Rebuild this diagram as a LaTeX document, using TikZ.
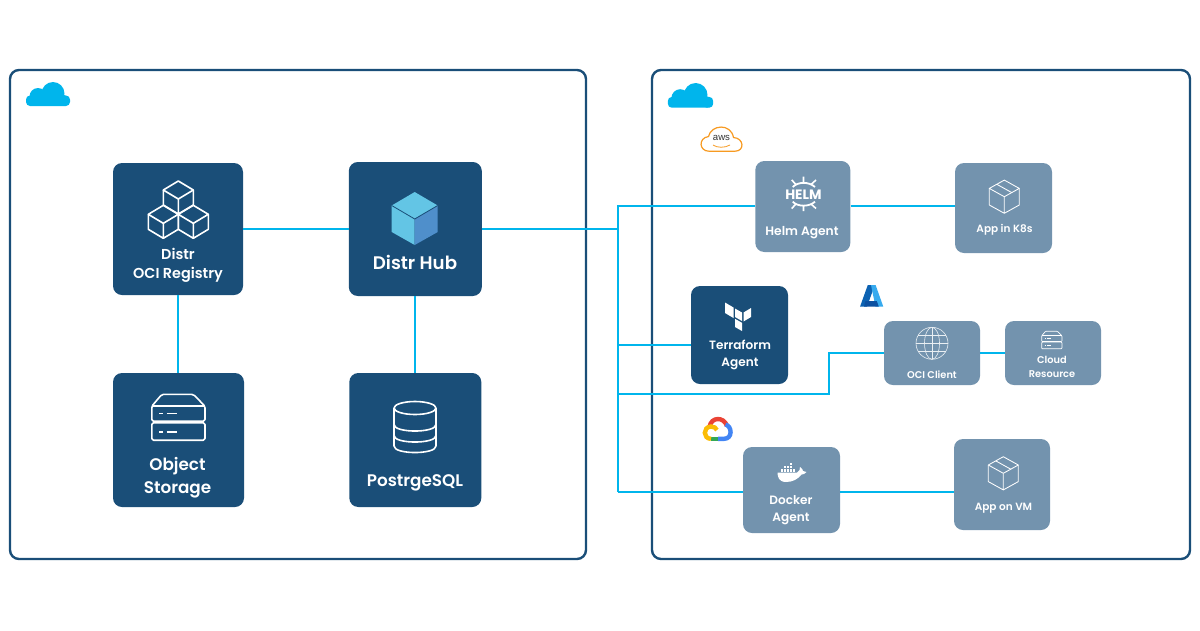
\documentclass[tikz,border=0pt]{standalone}
\usepackage{fontspec}
\setmainfont{Poppins SemiBold}
\newfontfamily\helmfont{Poppins}[BoldFont={Poppins Bold}]
\newfontfamily\awsfont{Liberation Sans}
\usepackage{tikz}
\usetikzlibrary{positioning}
\definecolor{panelblue}{HTML}{1A4E78}
\definecolor{agentgray}{HTML}{7393AE}
\definecolor{linkcyan}{HTML}{00B5EC}
\definecolor{awsorange}{HTML}{F79A21}
\definecolor{cubelight}{HTML}{63C5E5}
\definecolor{cubeshade}{HTML}{4F8FCB}
\definecolor{azuredark}{HTML}{0C62B2}
\definecolor{azurelight}{HTML}{37AAEE}
\definecolor{azurebar}{HTML}{0C50A0}
\definecolor{gred}{HTML}{EA4335}
\definecolor{gblue}{HTML}{4285F4}
\definecolor{ggreen}{HTML}{34A853}
\definecolor{gyellow}{HTML}{FBBC05}
\newcommand{\fs}[2]{\fontsize{#1}{#2}\selectfont}
\tikzset{
	panel/.style = {draw=panelblue,line width=2.4pt,rounded corners=9pt},
	darkbox/.style = {fill=panelblue,rounded corners=9pt,inner sep=0pt},
	grayboxx/.style = {fill=agentgray,rounded corners=9pt,inner sep=0pt},
	link/.style = {draw=linkcyan,line width=2pt},
	boxtext/.style = {text=white,align=center,inner sep=0pt},
	icon/.style = {draw=white,line width=1.6pt,line join=round},
	pics/bluecloud/.style = {code={
		\fill[linkcyan,rounded corners=4pt] (-22,8) rectangle (22,-2.5);
		\fill[linkcyan] (-10,-1.5) circle (8.5);
		\fill[linkcyan] (5,-4.5) circle (11.5);
		\fill[linkcyan] (16,2.5) circle (5.5);
	}},
	pics/isocube/.style = {code={
		\draw[icon] (0,-18) -- (-15,-9) -- (0,0) -- (15,-9) -- cycle;
		\draw[icon] (-15,-9) -- (-15,6) -- (0,15) -- (15,6) -- (15,-9) (0,0) -- (0,15);
	}},
	pics/parcel/.style = {code={
		\draw[icon,line width=.85pt] (0,-16.6) -- (-15,-8.3) -- (0,0) -- (15,-8.3) -- cycle;
		\draw[icon,line width=.85pt] (-15,-8.3) -- (-15,8.3) -- (0,16.6) -- (15,8.3) -- (15,-8.3) (0,0) -- (0,16.6);
		\draw[icon,line width=.85pt] (-7.5,-12.4) -- (7.5,-4.1);
	}},
	pics/rackicon/.style = {code={
		\draw[icon,rounded corners=#1,line width=#1] (-26.6,4) -- (-26.6,-11) -- (-16.6,-22.8) -- (15,-22.8) -- (26.6,-11) -- (26.6,4) -- cycle;
		\draw[icon,line width=#1] (-26.6,-11) -- (26.6,-11);
		\draw[icon,rounded corners=#1,line width=#1] (-26.6,5.6) rectangle (26.6,23);
		\draw[icon,line width=#1] (-19,-3.7) -- (-15,-3.7) (-11.7,-3.7) -- (-1.7,-3.7);
		\draw[icon,line width=#1] (-19,14.7) -- (-15,14.7) (-11.7,14.7) -- (-1.7,14.7);
	}},
}
\begin{document}
\begin{tikzpicture}[x=1pt,y=-1pt]
	\useasboundingbox (0,0) rectangle (1200,630);

	\coordinate (trunktop) at (618,206);
	\coordinate (trunkhub) at (618,229);
	\coordinate (trunkterra) at (618,344.5);
	\coordinate (trunkoci) at (618,393.5);
	\coordinate (trunkdocker) at (618,492);
	\coordinate (ociturn) at (829,353);

	\draw[panel] (10,70) rectangle (586,559);
	\draw[panel] (652,70) rectangle (1190,559);
	\pic at (48,98) {bluecloud};
	\pic[scale=1.03] at (690.5,99.5) {bluecloud};

	\node[darkbox,minimum width=130,minimum height=132] (registry) at (178,229) {};
	\node[darkbox,minimum width=133,minimum height=134] (hub) at (415.3,229) {};
	\node[darkbox,minimum width=131,minimum height=134] (storage) at (178.5,440) {};
	\node[darkbox,minimum width=132,minimum height=134] (postgres) at (415.3,440) {};
	\node[grayboxx,minimum width=95,minimum height=91] (helm) at (802.8,206.5) {};
	\node[grayboxx,minimum width=97,minimum height=90] (appkube) at (1003.5,208) {};
	\node[darkbox,minimum width=97,minimum height=98] (terraform) at (739.5,335) {};
	\node[grayboxx,minimum width=96,minimum height=64] (ociclient) at (932,353) {};
	\node[grayboxx,minimum width=96,minimum height=64] (cloudres) at (1053,353) {};
	\node[grayboxx,minimum width=97,minimum height=86] (docker) at (791.5,490) {};
	\node[grayboxx,minimum width=96,minimum height=91] (appvm) at (1002,484.5) {};

	\draw[link] (registry.east) -- (hub.west);
	\draw[link] (registry.south) -- (registry.south |- storage.north);
	\draw[link] (hub.south) -- (postgres.north);
	\draw[link] (hub.east) -- (trunkhub);
	\draw[link] (helm.west |- trunktop) -- (trunktop) -- (trunkdocker);
	\draw[link] (helm.east |- trunktop) -- (appkube.west |- trunktop);
	\draw[link] (terraform.west |- trunkterra) -- (trunkterra);
	\draw[link] (trunkoci) -| (ociturn) -- (ociclient.west);
	\draw[link] (ociclient.east) -- (cloudres.west);
	\draw[link] (docker.west |- trunkdocker) -- (trunkdocker);
	\draw[link] (docker.east |- trunkdocker) -- (appvm.west |- trunkdocker);

	% box labels
	\node[boxtext,font=\fs{14.4}{19}] (registrytext) at (178,265) {Distr\\OCI Registry};
	\node[boxtext,font=\fs{18.2}{22}] (hubtext) at (415,262) {Distr Hub};
	\node[boxtext,font=\fs{16.8}{23}] (storagetext) at (177.5,477.5) {Object\\Storage};
	\node[boxtext,font=\fs{16.8}{22}] (postgrestext) at (415,482.5) {PostrgeSQL};
	\node[boxtext,font=\fs{12.3}{16}] (helmtext) at (802,232.5) {Helm Agent};
	\node[boxtext,font=\fs{10.5}{14}] (appkubetext) at (1004.5,230) {App in K8s};
	\node[boxtext,font=\fs{12.1}{17}] (terraformtext) at (740,355) {Terraform\\Agent};
	\node[boxtext,font=\fs{9.8}{14}] (ociclienttext) at (932,375) {OCI Client};
	\node[boxtext,font=\fs{9.8}{14}] (cloudrestext) at (1052,367) {Cloud\\Resource};
	\node[boxtext,font=\fs{12.1}{17}] (dockertext) at (791,510.5) {Docker\\Agent};
	\node[boxtext,font=\fs{10.5}{14}] (appvmtext) at (1003.5,508) {App on VM};

	% registry cubes
	\foreach \cx/\cy in {178.3/199,163.3/223.3,193.3/223.3}
		\pic at (\cx,\cy) {isocube};

	% hub cube
	\fill[cubelight] (414.7,192) -- (391.7,205.5) -- (391.7,232) -- (414.7,245) -- (414.7,219) -- (437.7,205.5) -- cycle;
	\fill[cubeshade] (414.7,219) -- (437.7,205.5) -- (437.7,232) -- (414.7,245) -- cycle;
	\draw[panelblue,line width=.8pt] (391.7,205.5) -- (414.7,219) -- (437.7,205.5);

	% storage icons
	\pic at (178.4,417.2) {rackicon=1.6pt};
	\pic[scale=.38] at (1051.8,340) {rackicon=.7pt};

	% postgres barrel
	\draw[icon] (415,408) ellipse [x radius=21,y radius=6.5];
	\draw[icon] (394,408) -- (394,446) .. controls (394,454.7) and (436,454.7) .. (436,446) -- (436,408);
	\draw[icon] (394,424.5) .. controls (394,433.2) and (436,433.2) .. (436,424.5);
	\draw[icon] (394,435.5) .. controls (394,444.2) and (436,444.2) .. (436,435.5);

	% parcels
	\pic at (1004.3,196.7) {parcel};
	\pic at (1003.3,473.3) {parcel};

	% helm wheel
	\node[text=white,inner sep=0pt,font=\helmfont\bfseries\fs{13.6}{14}] (helmword) at (803.4,194.5) {HELM};
	\draw[icon,line width=1.8pt] (792.7,187) .. controls (798,181.5) and (809,181.5) .. (815,187);
	\draw[icon,line width=1.8pt] (792.7,201.7) .. controls (798,207) and (809,207) .. (815,201.7);
	\draw[icon] (803.5,176.7) -- (803.5,183) (791.7,180) -- (796,184.5) (816,180) -- (811,184.5);
	\draw[icon] (803.5,205) -- (803.5,211) (791.7,208.5) -- (796,204) (816,208.5) -- (811,204);

	% terraform mark
	\fill[white] (725,302.5) -- (733.5,307.5) -- (733.5,318) -- (725,313) -- cycle;
	\fill[white] (735,308.5) -- (742,312.5) -- (742,321) -- (735,317) -- cycle;
	\fill[white] (735,318.8) -- (742,322.8) -- (742,331) -- (735,327) -- cycle;
	\fill[white] (743.5,312.5) -- (751,308) -- (751,317) -- (743.5,321.5) -- cycle;

	% globe
	\begin{scope}[draw=white!85!agentgray,line width=.6pt]
		\draw (932,343.3) circle (16);
		\draw (932,343.3) ellipse [x radius=7.5,y radius=16];
		\draw (932,327.3) -- (932,359.3) (916,343.3) -- (948,343.3);
		\draw (918.1,335.3) -- (945.9,335.3) (918.1,351.3) -- (945.9,351.3);
	\end{scope}

	% docker whale
	\fill[white] (777.5,472.5) -- (797,472.5) .. controls (800,472) and (799.5,469) .. (800,467)
		.. controls (802,468) and (803,470) .. (803,471) .. controls (804,471) and (805,471) .. (806.5,472)
		.. controls (805,474) and (803,474.5) .. (801.5,474.5) .. controls (798,479) and (793,482) .. (786,482)
		.. controls (779,482) and (777.5,477) .. cycle;
	\foreach \bx in {780.5,783.6,786.7,789.8,792.9}
		\fill[white] (\bx,468.9) rectangle +(2.5,2.6);
	\foreach \bx in {783.6,786.7,789.8}
		\fill[white] (\bx,465.7) rectangle +(2.5,2.6);
	\fill[white] (789.8,462.5) rectangle +(2.5,2.6);

	% aws
	\draw[awsorange,line width=1.2pt,fill=white] (709,151.2) .. controls (699,151.2) and (698,138) .. (708.5,136.5)
		.. controls (711,124.5) and (731,123) .. (733.5,137.5)
		.. controls (744,138) and (745,151.2) .. (735,151.2) -- cycle;
	\node[inner sep=0pt,text=black!80,font=\awsfont\fs{9.6}{11}] (awsword) at (721.5,138.2) {aws};
	\draw[awsorange,line width=.8pt] (713,145) .. controls (717,148) and (725,148) .. (730,145);

	% azure
	\fill[azuredark] (860,306.7) -- (867.8,285) -- (874.8,285) -- (867,306.7) -- cycle;
	\fill[azurelight] (871,285) -- (875.6,285) -- (883.3,306.7) -- (875.5,306.7) -- cycle;
	\fill[azurebar] (865.5,301) -- (876.8,301) -- (878.8,306.7) -- (864,306.7) -- cycle;

	% google cloud
	\begin{scope}[line width=4.4pt]
		\draw[gred] (709.5,427) .. controls (711,416.5) and (724,416.5) .. (727,426);
		\draw[gblue] (725.5,424.5) .. controls (732,426) and (733,438.8) .. (724,438.8) -- (718,438.8);
		\draw[ggreen] (718,438.8) -- (711,438.8);
		\draw[gyellow] (711,438.8) .. controls (703,438.8) and (702.5,427) .. (711,426.5) .. controls (714,426.5) and (716,428) .. (717,430);
	\end{scope}
\end{tikzpicture}
\end{document}
